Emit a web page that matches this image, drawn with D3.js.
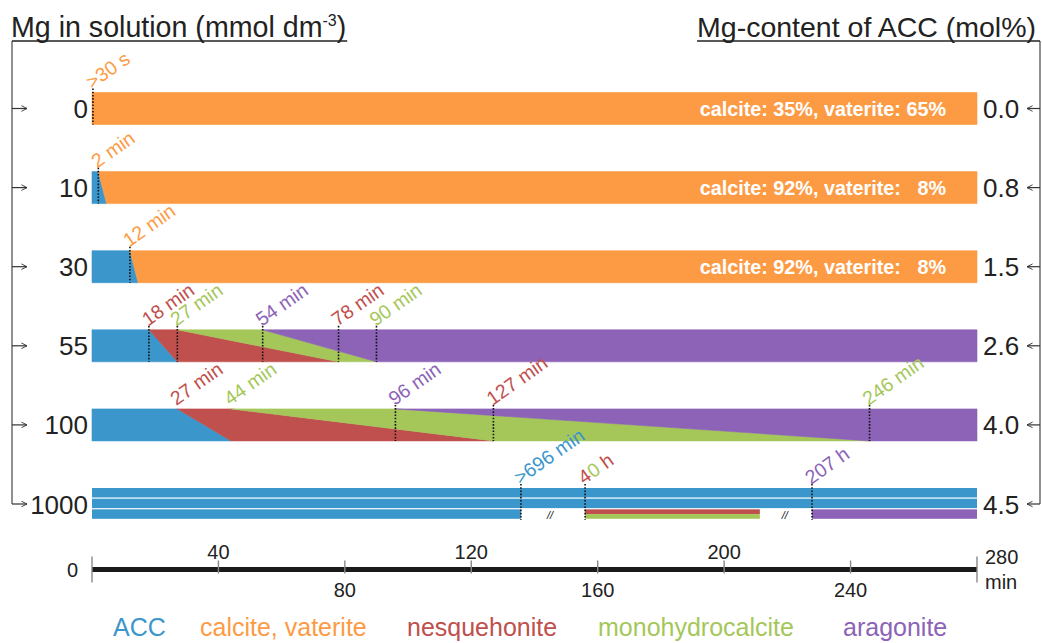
<!DOCTYPE html>
<html>
<head>
<meta charset="utf-8">
<script src="https://cdn.jsdelivr.net/npm/d3@7/dist/d3.min.js"></script>
<style>
  html, body { margin: 0; padding: 0; background: #fff; }
  svg { display: block; }
  .reg { font-family: "Liberation Sans", Arial, sans-serif; }
</style>
</head>
<body>
<svg id="chart" width="1042" height="643"></svg>
<script>
// ---- data ----
const concentrations = ["0", "10", "30", "55", "100", "1000"];      // Mg in solution, mmol dm-3
const mgContent = ["0.0", "0.8", "1.5", "2.6", "4.0", "4.5"];      // Mg content of ACC, mol%
const phases = ["ACC", "calcite, vaterite", "nesquehonite", "monohydrocalcite", "aragonite"];
const phaseColors = ["#3a96cb", "#fd9b45", "#c0504d", "#a5c75a", "#8c63b7"];

// phase order in each of the first five rows (index into phases)
const rowPhases = [[1], [0, 1], [0, 1], [0, 2, 3, 4], [0, 2, 3, 4]];
// transition between consecutive phases: [time at top edge, time at bottom edge] in min
const rowTransitions = [
  [],
  [[2, 4.6]],
  [[12, 14.6]],
  [[18, 27], [27, 78], [54, 90]],
  [[27, 44], [44, 127], [96, 246]]
];
// labelled times per row: [time, label, phase, dotted line drawn]
const rowMarkers = [
  [[0.3, ">30 s", 1, true]],
  [[2, "2 min", 1, true]],
  [[12, "12 min", 1, true]],
  [[18, "18 min", 2, true], [27, "27 min", 3, true], [54, "54 min", 4, true], [78, "78 min", 2, true], [90, "90 min", 3, true]],
  [[27, "27 min", 2, false], [44, "44 min", 3, false], [96, "96 min", 4, true], [127, "127 min", 2, true], [246, "246 min", 3, true]]
];
const bandTexts = ["calcite: 35%, vaterite: 65%", "calcite: 92%, vaterite:   8%", "calcite: 92%, vaterite:   8%", null, null];

// 1000 mmol row: three parallel lanes on a broken time axis
// segments: [phase, from, to, sub-band (0 = full, 1 = upper half, 2 = lower half)]
const laneSegments = [
  [[0, 0, 280, 0]],
  [[0, 0, 280, 0]],
  [[0, 0, 135.7, 0], [2, 156, 211.3, 1], [3, 156, 211.3, 2], [4, 227.8, 280, 0]]
];
const lastRowMarkers = [[135.7, ">696 min"], [156, "40 h"], [227.8, "207 h"]];
const lastRowMarkerColors = [[0], [2, 3, 2], [4]];
const axisBreaks = [144.9, 219.2];

const axisTicks = [0, 40, 80, 120, 160, 200, 240, 280];
const legendX = [113, 200, 407, 598, 843];

// ---- layout ----
const svg = d3.select("#chart");
const x = d3.scaleLinear().domain([0, 280]).range([92, 977]);
const y = d3.scalePoint().domain(concentrations).range([108.5, 504]);
const barH = 32;
const markerFont = 19.5;

const color = i => phaseColors[i];

// bars for the first five rows
rowPhases.forEach((seq, r) => {
  const cy = y(concentrations[r]);
  const top = cy - barH / 2, bot = cy + barH / 2;
  const tr = rowTransitions[r];
  const g = svg.append("g");
  seq.forEach((p, i) => {
    const left = i === 0 ? [0, 0] : tr[i - 1];
    const right = i === seq.length - 1 ? [280, 280] : tr[i];
    const pts = [[x(left[0]), top], [x(right[0]), top], [x(right[1]), bot], [x(left[1]), bot]];
    g.append("path")
      .attr("d", d3.line()(pts) + "Z")
      .attr("fill", color(p))
      .attr("stroke", color(p))
      .attr("stroke-width", 0.6);
  });
  // markers
  rowMarkers[r].forEach(([t, label, p, line]) => {
    if (line) {
      g.append("line")
        .attr("x1", x(t)).attr("x2", x(t))
        .attr("y1", top - 4).attr("y2", bot)
        .attr("stroke", "#111").attr("stroke-width", 1.6)
        .attr("stroke-dasharray", "1.6,1.6");
    }
    g.append("text").attr("class", "reg")
      .attr("transform", `translate(${x(t) - 1},${top - 3}) rotate(-35)`)
      .attr("font-size", markerFont)
      .attr("fill", color(p))
      .text(label);
  });
  if (bandTexts[r]) {
    g.append("text").attr("class", "reg")
      .attr("x", 946).attr("y", cy + 7)
      .attr("text-anchor", "end")
      .attr("font-size", 19.8).attr("font-weight", "bold")
      .attr("fill", "#fff")
      .style("white-space", "pre")
      .text(bandTexts[r]);
  }
});

// 1000 mmol row
{
  const cy = y("1000");
  const top = cy - barH / 2;
  const laneH = barH / 3;
  const g = svg.append("g");
  laneSegments.forEach((segs, l) => {
    const ly = top + l * laneH;
    segs.forEach(([p, a, b, sub]) => {
      const h = sub === 0 ? laneH - 1.2 : (laneH - 1.2) / 2;
      const yy = sub === 2 ? ly + (laneH - 1.2) / 2 : ly;
      g.append("rect")
        .attr("x", x(a)).attr("y", yy)
        .attr("width", x(b) - x(a)).attr("height", h)
        .attr("fill", color(p));
    });
  });
  lastRowMarkers.forEach(([t, label], i) => {
    g.append("line")
      .attr("x1", x(t)).attr("x2", x(t))
      .attr("y1", top - 4).attr("y2", top + barH)
      .attr("stroke", "#111").attr("stroke-width", 1.6)
      .attr("stroke-dasharray", "1.6,1.6");
    const txt = g.append("text").attr("class", "reg")
      .attr("transform", `translate(${x(t) - 1},${top - 3}) rotate(-35)`)
      .attr("font-size", markerFont);
    const cols = lastRowMarkerColors[i];
    if (cols.length === 1) {
      txt.attr("fill", color(cols[0])).text(label);
    } else {
      [label.slice(0, 1), label.slice(1, 2), label.slice(2)].forEach((s, k) => {
        txt.append("tspan").attr("fill", color(cols[k])).style("white-space", "pre").text(s);
      });
    }
  });
  axisBreaks.forEach(t => {
    g.append("text").attr("class", "reg")
      .attr("x", x(t)).attr("y", top + barH - 1)
      .attr("text-anchor", "middle")
      .attr("font-size", 11).attr("font-style", "italic")
      .attr("fill", "#111")
      .text("//");
  });
}

// row labels on both sides
const labelG = svg.append("g");
concentrations.forEach((c, r) => {
  const cy = y(c);
  labelG.append("text").attr("class", "reg")
    .attr("x", 88).attr("y", cy + 9.5)
    .attr("text-anchor", "end").attr("font-size", 26).attr("fill", "#222")
    .text(c);
  labelG.append("text").attr("class", "reg")
    .attr("x", 983).attr("y", cy + 9.5)
    .attr("font-size", 26).attr("fill", "#222")
    .text(mgContent[r]);
});

svg.append("defs").html(`
  <marker id="ah" viewBox="0 0 10 10" refX="9" refY="5" markerWidth="7" markerHeight="7" orient="auto-start-reverse" markerUnits="userSpaceOnUse">
    <path d="M1,1 L9,5 L1,9" fill="none" stroke="#333" stroke-width="1.3"/>
  </marker>`);

const yTop = 41, yLast = y("1000");
// brackets joining the titles to each row
svg.append("line").attr("x1", 12).attr("x2", 12).attr("y1", yTop).attr("y2", yLast)
  .attr("stroke", "#555").attr("stroke-width", 1.3);
svg.append("line").attr("x1", 1040).attr("x2", 1040).attr("y1", yTop).attr("y2", yLast)
  .attr("stroke", "#555").attr("stroke-width", 1.3);
concentrations.forEach(c => {
  const cy = y(c);
  svg.append("line").attr("x1", 12).attr("x2", 27).attr("y1", cy).attr("y2", cy)
    .attr("stroke", "#333").attr("stroke-width", 1.2).attr("marker-end", "url(#ah)");
  svg.append("line").attr("x1", 1040).attr("x2", 1027).attr("y1", cy).attr("y2", cy)
    .attr("stroke", "#333").attr("stroke-width", 1.2).attr("marker-end", "url(#ah)");
});

// titles
const tl = svg.append("text").attr("class", "reg")
  .attr("x", 11).attr("y", 37).attr("font-size", 28.6).attr("fill", "#222");
tl.append("tspan").text("Mg in solution (mmol dm");
tl.append("tspan").attr("font-size", 16).attr("dy", -11).text("-3");
tl.append("tspan").attr("dy", 11).text(")");
const tlw = tl.node().getComputedTextLength();
svg.append("line").attr("x1", 12).attr("x2", 12 + tlw).attr("y1", 41).attr("y2", 41)
  .attr("stroke", "#222").attr("stroke-width", 1.6);

const tr = svg.append("text").attr("class", "reg")
  .attr("x", 1036).attr("y", 37).attr("text-anchor", "end").attr("font-size", 28.5).attr("fill", "#222")
  .text("Mg-content of ACC (mol%)");
const trw = tr.node().getComputedTextLength();
svg.append("line").attr("x1", 1036 - trw).attr("x2", 1040).attr("y1", 41).attr("y2", 41)
  .attr("stroke", "#222").attr("stroke-width", 1.6);

// time axis
const axisY = 569.5;
const ax = svg.append("g");
ax.append("line").attr("x1", x(0)).attr("x2", x(280)).attr("y1", axisY).attr("y2", axisY)
  .attr("stroke", "#1a1a1a").attr("stroke-width", 5);
axisTicks.forEach((t, i) => {
  const end = i === 0 || i === axisTicks.length - 1;
  ax.append("line").attr("x1", x(t)).attr("x2", x(t))
    .attr("y1", end ? axisY - 13 : axisY - 9).attr("y2", end ? axisY + 13 : axisY + 4)
    .attr("stroke", "#888").attr("stroke-width", 1.4);
  if (end) return;
  const above = i % 2 === 1;
  ax.append("text").attr("class", "reg")
    .attr("x", x(t)).attr("y", above ? axisY - 11 : axisY + 27)
    .attr("text-anchor", "middle").attr("font-size", 20).attr("fill", "#222")
    .text(t);
});
ax.append("text").attr("class", "reg")
  .attr("x", 78).attr("y", axisY + 7).attr("text-anchor", "end")
  .attr("font-size", 20).attr("fill", "#222").text(axisTicks[0]);
ax.append("text").attr("class", "reg")
  .attr("x", 985).attr("y", axisY - 6)
  .attr("font-size", 20).attr("fill", "#222").text(axisTicks[axisTicks.length - 1]);
ax.append("text").attr("class", "reg")
  .attr("x", 985).attr("y", axisY + 19)
  .attr("font-size", 20).attr("fill", "#222").text("min");

// legend
const lg = svg.append("g");
phases.forEach((p, i) => {
  lg.append("text").attr("class", "reg")
    .attr("x", legendX[i]).attr("y", 636)
    .attr("font-size", 25).attr("fill", color(i))
    .text(p);
});
</script>
</body>
</html>
